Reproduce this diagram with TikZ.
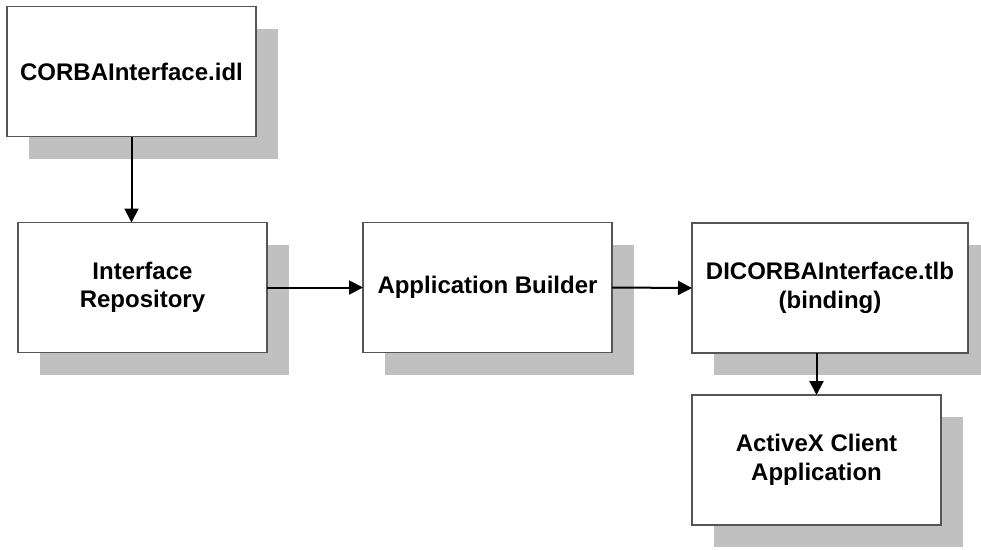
\documentclass[tikz,border=0pt]{standalone}
\usepackage{fontspec}
\setmainfont{Liberation Sans}
\usetikzlibrary{arrows.meta,shadows}
\definecolor{shadowgray}{HTML}{C0C0C0}
\definecolor{boxline}{HTML}{555555}
\begin{document}
\begin{tikzpicture}[x=1pt,y=-1pt,
  box/.style={draw=boxline, line width=1.3pt, fill=white, align=center,
    minimum height=130pt, inner sep=0pt, outer sep=0pt,
    font=\fontsize{24}{28.5}\selectfont\bfseries,
    drop shadow={shadow xshift=22pt, shadow yshift=-22pt, fill=shadowgray, opacity=1}},
  conn/.style={line width=2pt, -{Triangle[length=14pt,width=14pt]}}]
\useasboundingbox (0,0) rectangle (981,549);
\node[box, minimum width=249pt] (idl) at (131.5,71.5) {CORBAInterface.idl};
\node[box, minimum width=249pt] (ir) at (142.5,287.5) {Interface\\Repository};
\node[box, minimum width=249pt] (ab) at (487.5,287.5) {Application Builder};
\node[box, minimum width=276pt] (tlb) at (830,288) {DICORBAInterface.tlb\\(binding)};
\node[box, minimum width=249pt] (ax) at (816.5,460) {ActiveX Client\\Application};
\draw[conn] (idl.south) -- (idl.south |- ir.north);
\draw[conn] (ir.east) -- (ab.west);
\draw[conn] (ab.east) -- (tlb.west);
\draw[conn] (ax.north |- tlb.south) -- (ax.north);
\end{tikzpicture}
\end{document}
